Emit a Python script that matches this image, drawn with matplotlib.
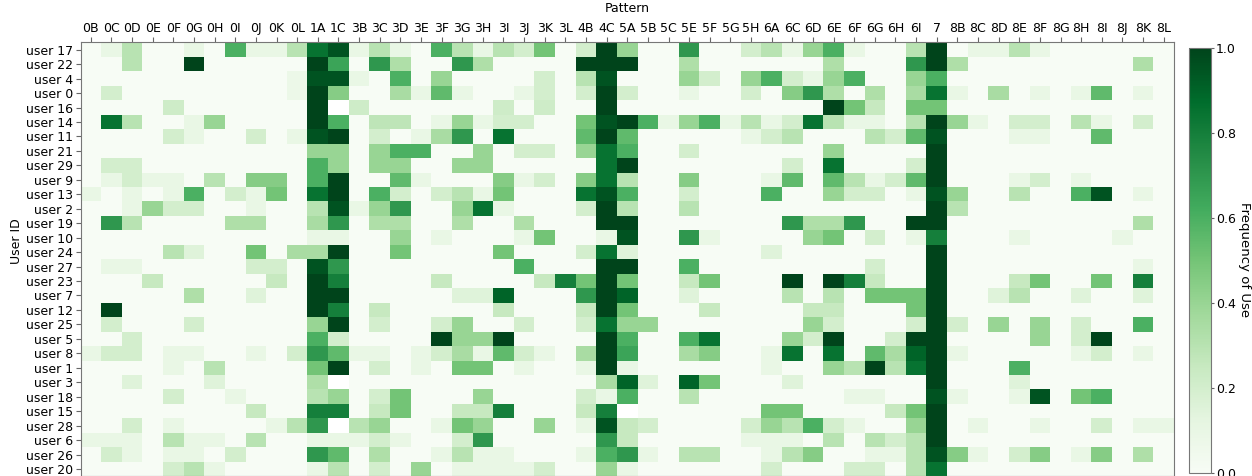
import numpy as np
import matplotlib
matplotlib.use("Agg")
from matplotlib import pyplot as plt

patterns = ["0B", "0C", "0D", "0E", "0F", "0G", "0H", "0I", "0J", "0K", "0L",
            "1A", "1C",
            "3B", "3C", "3D", "3E", "3F", "3G", "3H", "3I", "3J", "3K", "3L",
            "4B", "4C",
            "5A", "5B", "5C", "5E", "5F", "5G", "5H",
            "6A", "6C", "6D", "6E", "6F", "6G", "6H", "6I",
            "7",
            "8B", "8C", "8D", "8E", "8F", "8G", "8H", "8I", "8J", "8K", "8L"]

users = ["user 17", "user 22", "user 4", "user 0", "user 16", "user 14", "user 11",
         "user 21", "user 29", "user 9", "user 13", "user 2", "user 19", "user 10",
         "user 24", "user 27", "user 23", "user 7", "user 12", "user 25", "user 5",
         "user 8", "user 1", "user 3", "user 18", "user 15", "user 28", "user 6",
         "user 26", "user 20"]

# frequency of use per user, only the patterns that were used (rest is 0)
freq_rows = [
    {"0C": .1, "0D": .3, "0G": .1, "0I": .6, "0J": .1, "0K": .1, "0L": .3, "1A": .85, "1C": .95,
     "3B": .1, "3C": .3, "3D": .1, "3F": .6, "3G": .3, "3H": .1, "3I": .3, "3J": .2, "3K": .5,
     "4B": .2, "4C": 1.0, "5A": .4, "5E": .7, "5H": .2, "6A": .3, "6C": .1, "6D": .4, "6E": .6,
     "6F": .1, "6I": .3, "7": 1.0, "8C": .1, "8D": .1, "8E": .3, "8F": .1},
    {"0D": .3, "0G": 1.0, "1A": 1.0, "1C": .65, "3C": .7, "3D": .33, "3G": .7, "3H": .33,
     "4B": 1.0, "4C": 1.0, "5A": 1.0, "5E": .33, "6E": .33, "6I": .7, "7": 1.0, "8B": .33, "8K": .33},
    {"0L": .08, "1A": .95, "1C": .95, "3B": .1, "3D": .6, "3F": .4, "3K": .2, "4B": .3, "4C": .95,
     "5E": .4, "5F": .2, "5H": .4, "6A": .6, "6C": .2, "6D": .1, "6E": .4, "6F": .6, "6I": .4, "7": .6},
    {"0C": .2, "0L": .08, "1A": 1.0, "1C": .45, "3D": .35, "3E": .1, "3F": .55, "3G": .1, "3J": .1,
     "3K": .2, "4B": .2, "4C": 1.0, "5A": .2, "5E": .1, "5H": .2, "6C": .45, "6D": .7, "6E": .33,
     "6G": .33, "6I": .35, "7": .85, "8B": .1, "8D": .35, "8F": .1, "8H": .1, "8I": .55, "8K": .1},
    {"0F": .22, "1A": 1.0, "1C": np.nan, "3B": .22, "3I": .22, "3K": .22, "4C": 1.0, "6E": 1.0,
     "6F": .5, "6G": .25, "6I": .5, "7": .5},
    {"0C": .85, "0D": .3, "0G": .1, "0H": .4, "1A": 1.0, "1C": .6, "3C": .28, "3D": .28, "3F": .1,
     "3G": .4, "3H": .1, "3I": .2, "3J": .2, "4B": .5, "4C": .95, "5A": 1.0, "5B": .6, "5C": .1,
     "5E": .4, "5F": .6, "5G": .1, "5H": .3, "6A": .1, "6C": .2, "6D": .85, "6E": .3, "6F": .1,
     "6G": .1, "6I": .3, "7": 1.0, "8B": .4, "8C": .1, "8E": .2, "8F": .2, "8H": .3, "8I": .1, "8K": .2},
    {"0F": .2, "0G": .1, "0J": .2, "0L": .1, "1A": .95, "1C": 1.0, "3C": .2, "3E": .1, "3F": .35,
     "3G": .7, "3I": .85, "4B": .55, "4C": 1.0, "5A": .55, "5H": .1, "6A": .2, "6C": .3, "6G": .3,
     "6H": .2, "6I": .55, "7": .95, "8E": .1, "8F": .1, "8I": .55},
    {"1A": .4, "1C": .4, "3C": .4, "3D": .6, "3E": .6, "3H": .4, "3J": .2, "3K": .2, "4B": .4,
     "4C": .85, "5A": .6, "5E": .2, "6E": .4, "7": 1.0},
    {"0C": .2, "0D": .2, "1A": .6, "1C": .4, "3C": .4, "3D": .4, "3G": .4, "3H": .4, "4C": .85,
     "5A": 1.0, "6C": .2, "6E": .85, "6I": .2, "7": 1.0},
    {"0C": .1, "0D": .2, "0E": .1, "0F": .1, "0H": .3, "0J": .45, "0K": .45, "1A": .6, "1C": 1.0,
     "3D": .55, "3E": .1, "3I": .45, "3J": .1, "3K": .2, "4B": .45, "4C": .85, "5A": .3, "5E": .45,
     "6A": .1, "6C": .55, "6E": .55, "6F": .3, "6G": .1, "6H": .2, "6I": .55, "7": 1.0, "8E": .1,
     "8F": .2, "8H": .1},
    {"0B": .1, "0D": .1, "0F": .1, "0G": .6, "0I": .2, "0J": .1, "0K": .5, "1A": .85, "1C": 1.0,
     "3C": .6, "3D": .2, "3F": .2, "3G": .3, "3H": .1, "3I": .5, "4B": .85, "4C": .95, "5A": .6,
     "5E": .2, "6A": .6, "6E": .4, "6F": .2, "6G": .2, "6I": .1, "7": .95, "8B": .4, "8E": .3,
     "8H": .6, "8I": .95, "8K": .1},
    {"0D": .1, "0E": .4, "0F": .2, "0G": .2, "0J": .1, "1A": .3, "1C": .95, "3B": .1, "3C": .4,
     "3D": .7, "3G": .4, "3H": .85, "3I": .1, "4B": .2, "4C": 1.0, "5A": .3, "5E": .3, "7": 1.0, "8B": .3},
    {"0C": .7, "0D": .3, "0I": .33, "0J": .33, "1A": .35, "1C": .7, "3C": .33, "3D": .33, "3G": .33,
     "3J": .33, "4C": 1.0, "5A": 1.0, "6C": .7, "6D": .33, "6E": .33, "6F": .7, "6I": 1.0, "7": 1.0,
     "8K": .33},
    {"1A": .1, "1C": .1, "3D": .4, "3F": .1, "3J": .1, "3K": .5, "4C": .1, "5A": .95, "5E": .7,
     "5F": .1, "6D": .4, "6E": .5, "6G": .2, "6I": .1, "7": .8, "8E": .1, "8J": .1},
    {"0F": .3, "0G": .15, "0J": .5, "0L": .35, "1A": .35, "1C": 1.0, "3D": .5, "3I": .5, "4B": .2,
     "4C": .85, "5A": .15, "6A": .15, "7": 1.0},
    {"0C": .1, "0D": .1, "0J": .2, "0K": .2, "1A": .95, "1C": .7, "3J": .6, "4C": 1.0, "5A": 1.0,
     "5E": .6, "6G": .2, "7": 1.0, "8K": .1},
    {"0E": .25, "0K": .25, "1A": 1.0, "1C": .8, "3F": .25, "3K": .25, "3L": .8, "4B": .5, "4C": 1.0,
     "5A": .5, "5E": .25, "5F": .5, "6C": 1.0, "6E": 1.0, "6F": .8, "6G": .25, "7": 1.0, "8E": .25,
     "8F": .5, "8I": .5, "8K": .8},
    {"0G": .33, "0J": .15, "1A": 1.0, "1C": 1.0, "3G": .15, "3H": .15, "3I": .9, "4B": .7, "4C": 1.0,
     "5A": .9, "5E": .15, "6C": .3, "6E": .3, "6G": .5, "6H": .5, "6I": .5, "7": 1.0, "8D": .15,
     "8E": .3, "8H": .15, "8K": .15},
    {"0C": 1.0, "1A": 1.0, "1C": .8, "3C": .25, "3I": .25, "4B": .25, "4C": 1.0, "5A": .5, "5F": .25,
     "6D": .25, "6E": .25, "6I": .5, "7": 1.0},
    {"0C": .2, "0G": .2, "1A": .4, "1C": 1.0, "3C": .2, "3F": .2, "3G": .4, "3J": .2, "4B": .2,
     "4C": .85, "5A": .4, "5B": .4, "6D": .4, "6E": .2, "6I": .2, "7": 1.0, "8B": .2, "8D": .4,
     "8F": .4, "8H": .2, "8K": .6},
    {"0D": .2, "1A": .6, "1C": .2, "3F": 1.0, "3G": .4, "3H": .4, "3I": 1.0, "4C": 1.0, "5A": .6,
     "5E": .6, "5F": .85, "6C": .4, "6D": .2, "6E": 1.0, "6H": .2, "6I": 1.0, "7": 1.0, "8F": .4,
     "8H": .2, "8I": 1.0},
    {"0B": .1, "0C": .2, "0D": .2, "0F": .1, "0G": .1, "0J": .1, "0L": .2, "1A": .7, "1C": .55,
     "3B": .1, "3C": .1, "3E": .1, "3F": .2, "3G": .35, "3H": .1, "3I": .55, "3J": .2, "3K": .1,
     "4B": .35, "4C": 1.0, "5A": .65, "5E": .35, "5F": .45, "6A": .1, "6C": .85, "6E": .85,
     "6G": .55, "6H": .35, "6I": .9, "7": 1.0, "8B": .1, "8H": .1, "8I": .2, "8K": .1},
    {"0F": .1, "0H": .3, "1A": .5, "1C": 1.0, "3C": .2, "3E": .1, "3G": .5, "3H": .5, "3J": .1,
     "4B": .1, "4C": 1.0, "5A": .1, "6A": .1, "6E": .4, "6F": .3, "6G": 1.0, "6H": .3, "6I": .85,
     "7": 1.0, "8E": .6},
    {"0D": .15, "0H": .15, "1A": .33, "1C": np.nan, "4C": .35, "5A": .9, "5B": .15, "5E": .9,
     "5F": .5, "6C": .15, "7": 1.0, "8E": .15},
    {"0F": .2, "0I": .1, "1A": .3, "1C": .4, "3C": .2, "3D": .5, "3H": .4, "4B": .2, "4C": .1,
     "5A": .6, "5E": .3, "6F": .1, "6G": .1, "7": .95, "8B": .1, "8E": .1, "8F": .95, "8H": .5, "8I": .6},
    {"0J": .25, "1A": .8, "1C": .8, "3C": .25, "3D": .5, "3G": .25, "3H": .25, "3I": .8, "4B": .25,
     "4C": .8, "5A": np.nan, "6A": .5, "6C": .5, "6H": .25, "6I": .5, "7": 1.0},
    {"0D": .2, "0F": .1, "0K": .1, "0L": .3, "1A": .7, "1C": np.nan, "3B": .3, "3C": .4, "3F": .1,
     "3G": .5, "3H": .4, "3K": .4, "4B": .1, "4C": .95, "5A": .25, "5B": .2, "5H": .2, "6A": .4,
     "6C": .3, "6D": .6, "6E": .2, "6F": .1, "6I": .4, "7": 1.0, "8C": .1, "8F": .1, "8I": .2,
     "8K": .1, "8L": .1},
    {"0B": .1, "0C": .1, "0D": .1, "0F": .3, "0G": .1, "0H": .1, "0J": .3, "1A": .1, "1C": .1,
     "3B": .1, "3C": .2, "3D": .1, "3G": .2, "3H": .7, "4C": .7, "5A": .25, "5H": .1, "6A": .1,
     "6C": .1, "6E": .3, "6G": .3, "6H": .2, "6I": .3, "7": 1.0},
    {"0C": .2, "0D": .1, "0F": .1, "0G": .1, "0I": .2, "1A": .7, "1C": .55, "3C": .33, "3F": .1,
     "3G": .3, "3H": .1, "3I": .1, "4B": .1, "4C": .6, "5A": .7, "5B": .1, "5E": .3, "5F": .3,
     "6A": .1, "6C": .3, "6D": .45, "6G": .1, "6H": .1, "6I": .3, "7": .95, "8B": .45, "8C": .1,
     "8E": .2, "8F": .45, "8H": .1, "8I": .45, "8K": .33},
    {"0F": .2, "0G": .3, "0H": .1, "1A": .1, "1C": .3, "3C": .2, "3E": .4, "3G": .1, "3H": .1,
     "3I": .1, "3J": .1, "3K": .2, "4C": .4, "5A": .1, "6A": .2, "6F": .2, "6G": .2, "6I": .3, "7": .85},
]

freq = np.zeros((len(users), len(patterns)))
for i, row in enumerate(freq_rows):
    for p, v in row.items():
        freq[i, patterns.index(p)] = v
freq = np.ma.masked_invalid(freq)

plt.rcParams["font.family"] = "DejaVu Sans"
fig = plt.figure(figsize=(12.52, 4.76), dpi=100)
ax = fig.add_axes([80.5 / 1252, -0.0005, (1174 - 80.5) / 1252, 433.8 / 476])
cax = fig.add_axes([1189 / 1252, 3 / 476, 21.5 / 1252, 425 / 476])

mesh = ax.pcolormesh(np.arange(len(patterns) + 1), np.arange(len(users) + 1), freq,
                     cmap="Greens", vmin=0, vmax=1)
ax.set_xlim(0, len(patterns))
ax.set_ylim(len(users), 0)
ax.set_xticks(np.arange(len(patterns)) + 0.5)
ax.set_xticklabels(patterns, fontsize=9)
ax.set_yticks(np.arange(len(users)) + 0.5)
ax.set_yticklabels(users, fontsize=9)
ax.xaxis.tick_top()
ax.tick_params(color="#666666", length=3.5, pad=2)
for s in ax.spines.values():
    s.set_color("#777777")
    s.set_linewidth(0.8)

cbar = fig.colorbar(mesh, cax=cax)
cbar.outline.set_edgecolor("#777777")
cbar.outline.set_linewidth(0.8)
cbar.set_ticks([0, 0.2, 0.4, 0.6, 0.8, 1.0])
cbar.ax.tick_params(labelsize=9, color="#666666", length=2.5, pad=1.2)

fig.text(627 / 1252, 1 - 9 / 476, "Pattern", ha="center", va="center", fontsize=9)
fig.text(16 / 1252, 1 - 241 / 476, "User ID", ha="center", va="center", rotation=90, fontsize=9)
fig.text(1245 / 1252, 1 - 260 / 476, "Frequency of Use", ha="center", va="center",
         rotation=270, fontsize=9.5)

fig.savefig("out.png", dpi=100)
